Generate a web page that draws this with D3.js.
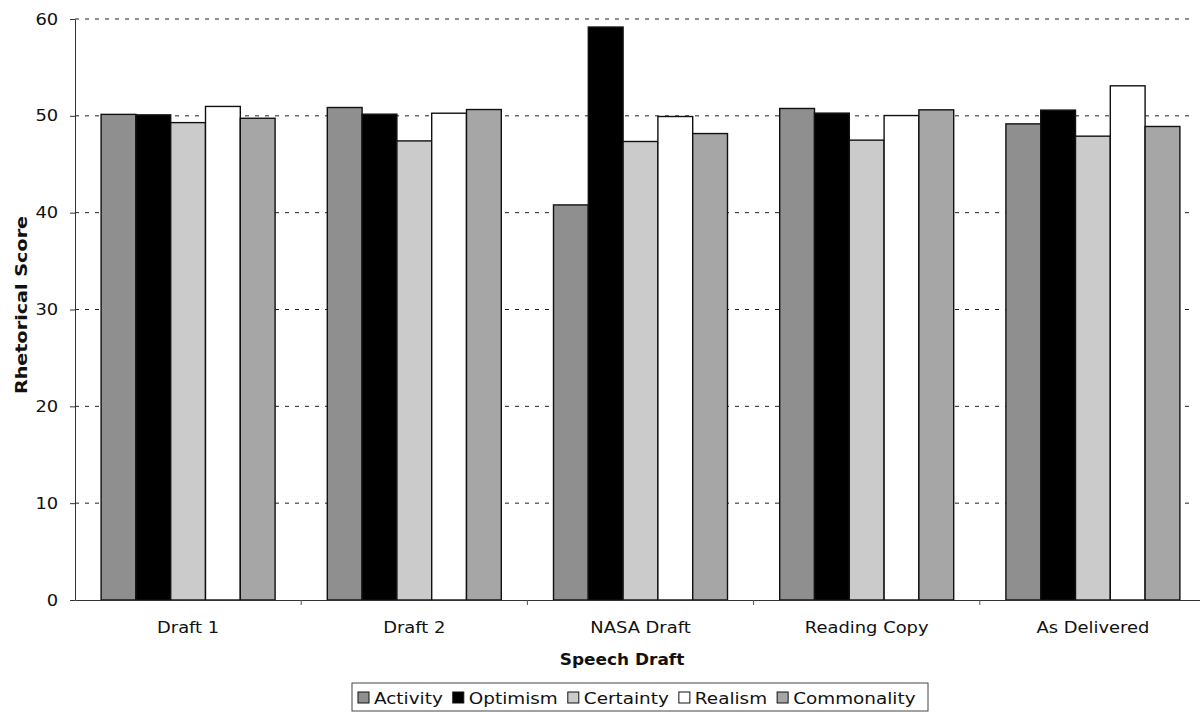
<!DOCTYPE html>
<html>
<head>
<meta charset="utf-8">
<script src="https://cdn.jsdelivr.net/npm/d3@7"></script>
<style>
  html, body { margin: 0; padding: 0; background: #fff; }
  svg { display: block; }
  text { font-family: "DejaVu Sans", Verdana, sans-serif; fill: #111; }
</style>
</head>
<body>
<svg id="chart" width="1200" height="712"></svg>
<script>
// Rhetorical scores per speech draft
const categories = ["Draft 1", "Draft 2", "NASA Draft", "Reading Copy", "As Delivered"];
const seriesNames = ["Activity", "Optimism", "Certainty", "Realism", "Commonality"];
const activity    = [50.15, 50.86, 40.80, 50.76, 49.17];
const optimism    = [50.10, 50.17, 59.17, 50.28, 50.59];
const certainty   = [49.30, 47.41, 47.35, 47.49, 47.90];
const realism     = [50.97, 50.27, 49.93, 50.03, 53.10];
const commonality = [49.75, 50.65, 48.17, 50.62, 48.90];
const yTicks = [0, 10, 20, 30, 40, 50, 60];

const seriesValues = [activity, optimism, certainty, realism, commonality];
const fills = ["#8f8f8f", "#000000", "#cbcbcb", "#ffffff", "#a6a6a6"];

const svg = d3.select("#chart");
const plotL = 75, plotR = 1206, plotT = 19, plotB = 600;
const SX = 1.12;   // horizontal stretch of label text

const x = d3.scaleBand().domain(categories).range([plotL, plotR]).padding(0);
const barW = x.bandwidth() / 6.5;
const xs = d3.scaleBand().domain(seriesNames)
  .range([barW * 0.75, x.bandwidth() - barW * 0.75]).padding(0);
const y = d3.scaleLinear().domain([0, 60]).range([plotB, plotT]);

// dashed gridlines
svg.append("g").selectAll("line")
  .data(yTicks.filter(t => t > 0))
  .join("line")
  .attr("x1", plotL).attr("x2", 1194)
  .attr("y1", d => y(d)).attr("y2", d => y(d))
  .attr("stroke", "#222").attr("stroke-width", 1)
  .attr("stroke-dasharray", "4,6");

// bars
const groups = svg.append("g").selectAll("g")
  .data(categories)
  .join("g")
  .attr("transform", d => `translate(${x(d)},0)`);

groups.selectAll("rect")
  .data((c, ci) => seriesNames.map((s, si) => ({ s, si, v: seriesValues[si][ci] })))
  .join("rect")
  .attr("x", d => xs(d.s))
  .attr("width", xs.bandwidth())
  .attr("y", d => y(d.v))
  .attr("height", d => y(0) - y(d.v))
  .attr("fill", d => fills[d.si])
  .attr("stroke", "#111")
  .attr("stroke-width", 1.4);

// y axis
const yAxis = svg.append("g")
  .attr("transform", `translate(${plotL},0)`)
  .call(d3.axisLeft(y).tickValues(yTicks).tickSize(5).tickPadding(10).tickSizeOuter(0));
yAxis.select(".domain").attr("stroke", "#333");
yAxis.selectAll(".tick line").attr("stroke", "#333");
yAxis.selectAll(".tick text")
  .attr("font-size", 16).attr("fill", "#111")
  .attr("font-family", "DejaVu Sans, Verdana, sans-serif")
  .attr("transform", `scale(${SX},1)`);

// x axis with ticks at category boundaries
const xAxis = svg.append("g")
  .attr("transform", `translate(0,${plotB})`)
  .call(d3.axisBottom(x).tickSize(0).tickPadding(22).tickSizeOuter(0));
xAxis.select(".domain").attr("stroke", "#333");
xAxis.selectAll(".tick text")
  .attr("font-size", 16).attr("fill", "#111")
  .attr("font-family", "DejaVu Sans, Verdana, sans-serif")
  .attr("transform", `scale(${SX},1)`);
xAxis.selectAll(".tick line").remove();
xAxis.append("g").selectAll("line")
  .data(categories.slice(1))
  .join("line")
  .attr("x1", d => x(d)).attr("x2", d => x(d))
  .attr("y1", 0).attr("y2", 5)
  .attr("stroke", "#555");

// axis titles
svg.append("text")
  .attr("transform", `translate(622,665) scale(1.06,1)`)
  .attr("text-anchor", "middle")
  .attr("font-size", 16).attr("font-weight", "bold")
  .text("Speech Draft");

svg.append("text")
  .attr("transform", `translate(27,305) rotate(-90) scale(1.2,1)`)
  .attr("text-anchor", "middle")
  .attr("font-size", 16).attr("font-weight", "bold")
  .text("Rhetorical Score");

// legend
const LSX = 1.15;
const legend = svg.append("g");
const legendBox = legend.append("rect")
  .attr("y", 683).attr("height", 28)
  .attr("fill", "#fff").attr("stroke", "#444").attr("stroke-width", 1);
let cx = 358;
seriesNames.forEach((name, i) => {
  legend.append("rect")
    .attr("x", cx).attr("y", 692).attr("width", 11).attr("height", 11)
    .attr("fill", fills[i]).attr("stroke", "#111").attr("stroke-width", 1);
  const t = legend.append("text")
    .attr("font-size", 16)
    .attr("transform", `translate(${cx + 16},704) scale(${LSX},1)`)
    .text(name);
  cx += 16 + t.node().getComputedTextLength() * LSX + (i < seriesNames.length - 1 ? 10 : 0);
});
legendBox.attr("x", 352).attr("width", Math.max(cx + 9, 928) - 352);
</script>
</body>
</html>
